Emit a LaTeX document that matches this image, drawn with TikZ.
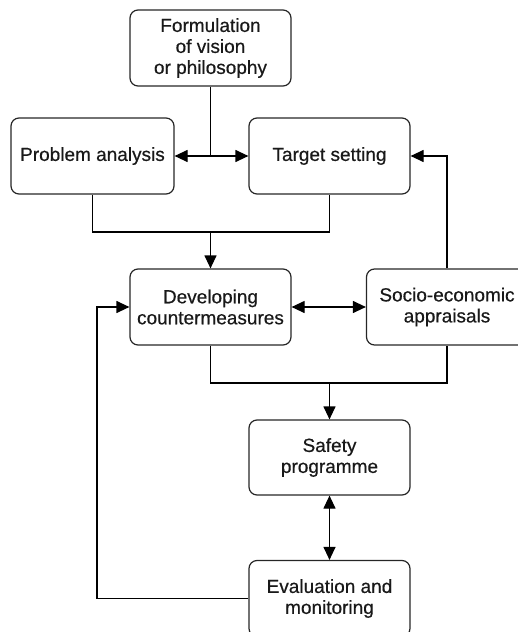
\documentclass[tikz,border=0pt]{standalone}
\usepackage{fontspec}
\setmainfont{Liberation Sans}
\newfontfamily\boxfont[FakeBold=0.5]{Liberation Sans}
\usetikzlibrary{arrows.meta}
\begin{document}
\begin{tikzpicture}[x=1pt,y=-1pt,
  box/.style={draw=black!85, rounded corners=8pt, line width=1.2pt, minimum width=161pt, minimum height=76pt,
    align=center, font=\boxfont\fontsize{19}{21}\selectfont, text=black!90, inner sep=0pt},
  conn/.style={line width=1.2pt},
  tip/.style={},
  arr/.style={conn,-{Triangle[length=13pt,width=12pt]}},
  darr/.style={conn,{Triangle[length=13pt,width=12pt]}-{Triangle[length=13pt,width=12pt]}}]
\useasboundingbox (0,0) rectangle (518,632);
\node[box] (vision) at (210.5,48) {Formulation\\of vision\\or philosophy};
\node[box, minimum width=163pt] (problem) at (92.5,156) {Problem analysis};
\node[box] (target) at (329.5,156) {Target setting};
\node[box] (develop) at (210.5,307) {Developing\\countermeasures};
\node[box] (socio) at (447,307) {Socio-economic\\appraisals};
\node[box, minimum height=75pt] (safety) at (329.5,457.5) {Safety\\programme};
\node[box] (eval) at (329.5,598.5) {Evaluation and\\monitoring};
\coordinate (j1) at (vision.south |- problem.east);
\draw[conn] (vision.south) -- (j1);
\draw[arr] (j1) -- (problem.east);
\draw[arr] (j1) -- (target.west);
\draw[arr] (socio.north) |- (target.east);
\coordinate (j2) at (210.5,232);
\draw[conn] (problem.south) -- (problem.south |- j2) -- (target.south |- j2) -- (target.south);
\draw[arr] (j2) -- (develop.north);
\draw[darr] (develop.east) -- (socio.west);
\coordinate (j3) at (329.5,383);
\draw[conn] (develop.south) -- (develop.south |- j3) -- (socio.south |- j3) -- (socio.south);
\draw[arr] (j3) -- (safety.north);
\draw[darr] (safety.south) -- (eval.north);
\coordinate (fb) at (97,0);
\draw[arr] (eval.west) -- (eval.west -| fb) |- (develop.west);
\end{tikzpicture}
\end{document}
